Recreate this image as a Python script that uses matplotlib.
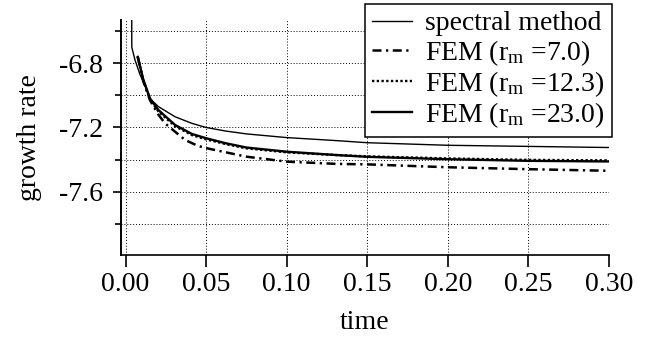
import matplotlib
matplotlib.use('Agg')
import matplotlib.pyplot as plt
from matplotlib.ticker import MultipleLocator, FormatStrFormatter

plt.rcParams['font.family'] = 'Liberation Serif'
plt.rcParams['mathtext.fontset'] = 'custom'
plt.rcParams['mathtext.rm'] = 'Liberation Serif'
plt.rcParams['mathtext.it'] = 'Liberation Serif:italic'

# spectral method
t_spec = [0.0038, 0.0039, 0.0059, 0.0090, 0.0132, 0.0152, 0.0204, 0.0307, 0.0411,
          0.050, 0.062, 0.075, 0.100, 0.131, 0.150, 0.200, 0.250, 0.300]
g_spec = [-6.30, -6.70, -6.78, -6.87, -6.965, -7.02, -7.07, -7.133, -7.174,
          -7.20, -7.222, -7.24, -7.263, -7.282, -7.295, -7.311, -7.318, -7.325]

# FEM, r_m = 7.0
t_fem7 = [0.0076, 0.011, 0.0152, 0.0204, 0.0245, 0.0307, 0.037, 0.045, 0.052,
          0.075, 0.100, 0.131, 0.150, 0.200, 0.250, 0.300]
g_fem7 = [-6.76, -6.91, -7.03, -7.12, -7.174, -7.226, -7.278, -7.315, -7.333,
          -7.382, -7.413, -7.427, -7.430, -7.448, -7.460, -7.470]

# FEM, r_m = 12.3 and 23.0
t_fem = [0.0076, 0.011, 0.0152, 0.0204, 0.0307, 0.0411, 0.050, 0.062, 0.075,
         0.100, 0.131, 0.150, 0.200, 0.250, 0.300]
g_fem12 = [-6.76, -6.905, -7.025, -7.10, -7.192, -7.247, -7.274, -7.303, -7.33,
           -7.355, -7.372, -7.380, -7.393, -7.402, -7.405]
g_fem23 = [-6.76, -6.90, -7.02, -7.091, -7.184, -7.24, -7.267, -7.298, -7.325,
           -7.351, -7.372, -7.383, -7.398, -7.408, -7.412]

FS = 20
W, H = 659, 338

fig = plt.figure(figsize=(W / 100, H / 100), dpi=100)
ax = fig.add_axes([121 / W, 1 - 255 / H, (609 - 121) / W, (255 - 20) / H])

ax.plot(t_spec, g_spec, color='black', lw=1.0, label='spectral method')
ax.plot(t_fem7, g_fem7, color='black', lw=1.8, linestyle=(0, (3.6, 1.8, 0.9, 1.8)),
        label='FEM (r$_\\mathrm{m}$ =7.0)')
ax.plot(t_fem, g_fem12, color='black', lw=1.7, linestyle=(0, (1, 1)),
        label='FEM (r$_\\mathrm{m}$ =12.3)')
ax.plot(t_fem, g_fem23, color='black', lw=1.7, label='FEM (r$_\\mathrm{m}$ =23.0)')

ax.set_xlim(-0.0028, 0.30)
ax.set_ylim(-7.995, -6.53)
ax.xaxis.set_major_locator(MultipleLocator(0.05))
ax.xaxis.set_major_formatter(FormatStrFormatter('%.2f'))
ax.set_yticks([-6.8, -7.2, -7.6])
ax.set_yticklabels(['-6.8', '-7.2', '-7.6'])
ax.set_yticks([-6.6, -7.0, -7.4, -7.8], minor=True)

ax.spines['top'].set_visible(False)
ax.spines['right'].set_visible(False)
ax.spines['left'].set_linewidth(1.4)
ax.spines['bottom'].set_linewidth(1.2)

ax.tick_params(axis='x', which='major', direction='out', length=8.5, width=1.2,
               labelsize=FS, pad=4)
ax.tick_params(axis='y', which='major', direction='out', length=6, width=1.2,
               labelsize=FS, pad=7)
ax.tick_params(axis='y', which='minor', direction='out', length=4.5, width=1.2)

ax.grid(True, which='both', color='black', lw=0.7, linestyle=(0, (1, 2)))
ax.set_axisbelow(True)

ax.set_xlabel('time', fontsize=FS, labelpad=9)
ax.set_ylabel('growth rate', fontsize=FS, labelpad=12)

leg = ax.legend(loc='upper right', bbox_to_anchor=(611.5 / W, 1 - 4 / H),
                bbox_transform=fig.transFigure, borderaxespad=0, fontsize=FS,
                frameon=True, fancybox=False, framealpha=1, edgecolor='black',
                handlelength=1.45, handletextpad=0.45, labelspacing=0.05,
                borderpad=0.25)
leg.get_frame().set_linewidth(1.1)

fig.savefig('out.png', dpi=100)
